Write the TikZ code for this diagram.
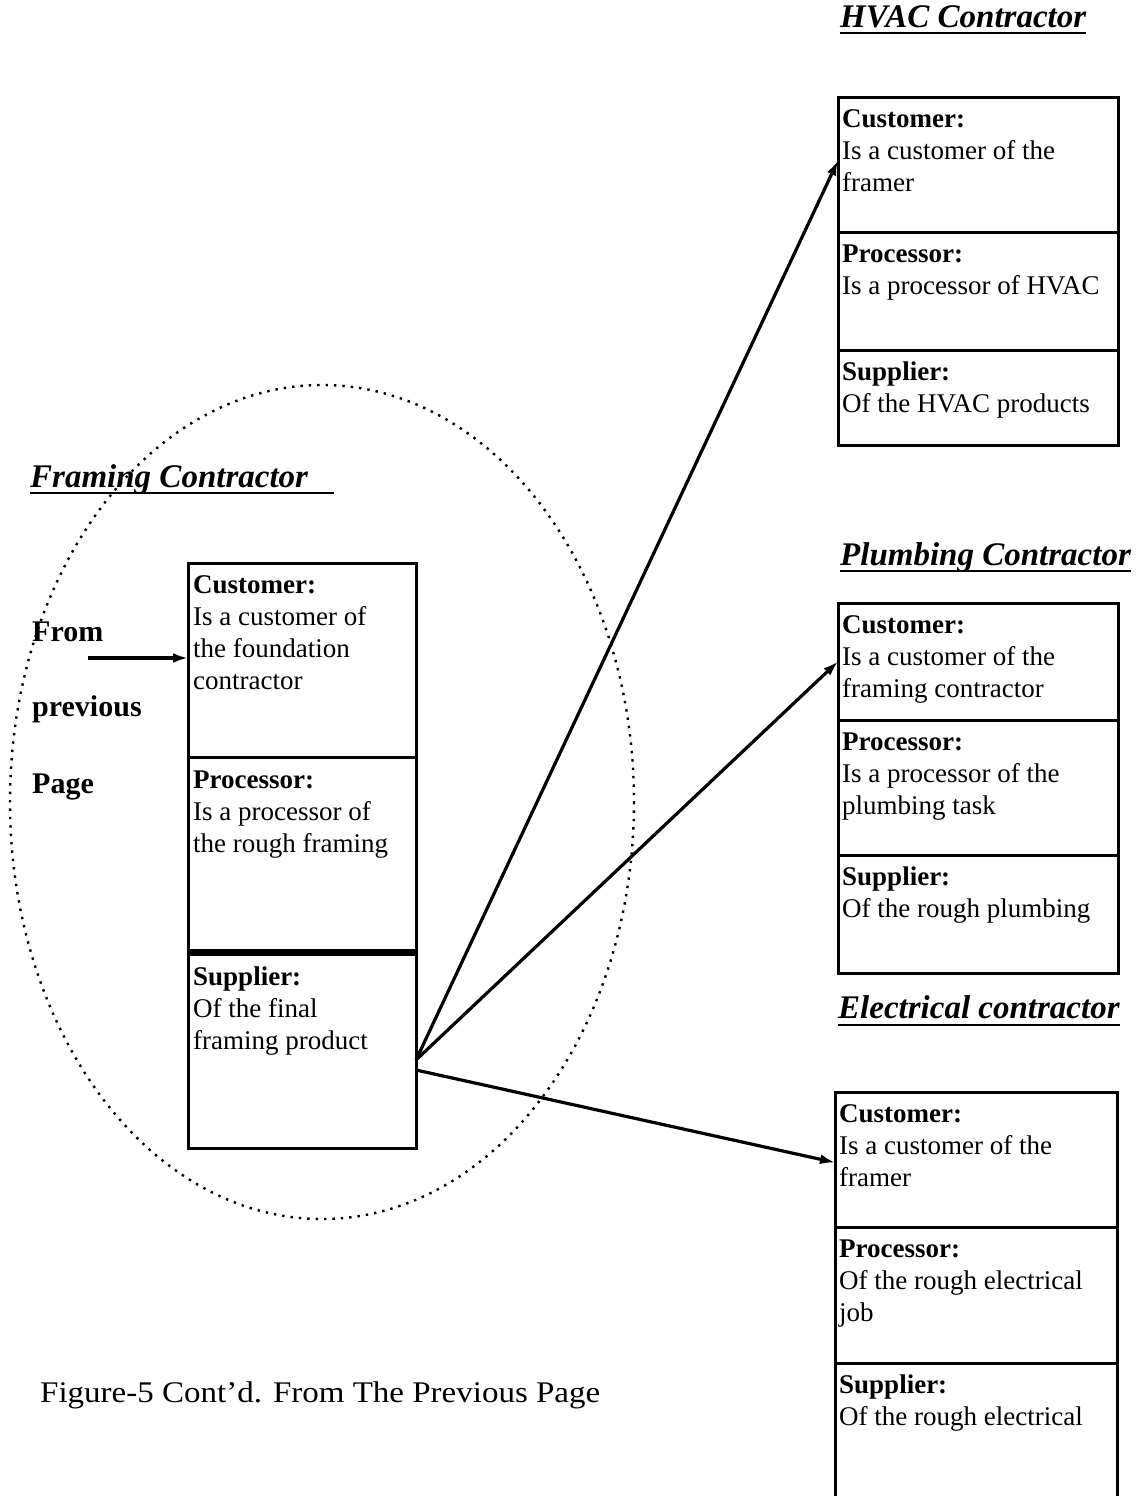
\documentclass[tikz,border=0pt]{standalone}
\usepackage{fontspec}
\usepackage{graphicx}
\setmainfont{Liberation Serif}
\usetikzlibrary{arrows.meta,calc}
\begin{document}
\begin{tikzpicture}[x=1pt,y=-1pt,
  sec/.style={draw, line width=3pt, anchor=north west, inner sep=0pt, outer sep=0pt},
  body/.style={anchor=north west, inner sep=0pt, align=left, font=\fontsize{27}{32}\selectfont},
  head/.style={anchor=base west, inner sep=0pt, font=\fontsize{33}{38}\selectfont\bfseries\itshape},
  side/.style={anchor=base west, inner sep=0pt, font=\fontsize{30}{36}\selectfont\bfseries},
  link/.style={line width=3.2pt, -{Latex[length=15pt,width=10pt]}},
  uline/.style={line width=2.8pt},
  group/.style={line width=2.4pt, dash pattern=on 2.4pt off 6pt}
]
\useasboundingbox (0,0) rectangle (1140,1496);
\clip (0,0) rectangle (1140,1496);

% ---------- Framing contractor ----------
\draw[group] (322,802) ellipse [x radius=312, y radius=417];

\node[head] (frT) at (30,487) {Framing Contractor};
\draw[uline] ($(frT.base west)+(0,6)$) -- ($(frT.base east)+(26,6)$);

\node[sec, minimum width=228pt, minimum height=194pt] (fC) at (188,563) {};
\node[sec, minimum width=228pt, minimum height=195pt] (fP) at (188,757) {};
\node[sec, minimum width=228pt, minimum height=196pt] (fS) at (188,952) {};
\draw[line width=7pt] (fS.north west) -- (fS.north east);

\node[body] at ($(fC.north west)+(5,12)$) {\textbf{Customer:}\\Is a customer of\\the foundation\\contractor};
\node[body] at ($(fP.north west)+(5,14)$) {\textbf{Processor:}\\Is a processor of\\the rough framing};
\node[body] at ($(fS.north west)+(5,15)$) {\textbf{Supplier:}\\Of the final\\framing product};

\node[side] (from) at (32,641) {From};
\node[side] (prev) at (32,716) {previous};
\node[side] (page) at (32,793) {Page};
\coordinate (fromtail) at (88,658);
\draw[link] (fromtail) -- ($(fC.west)+(0,-2)$);

% ---------- HVAC contractor ----------
\node[head] (hvT) at (840,28) {HVAC Contractor};
\draw[uline] ($(hvT.base west)+(0,5)$) -- ($(hvT.base east)+(0,5)$);
\node[sec, minimum width=280pt, minimum height=135pt] (hC) at (838,97) {};
\node[sec, minimum width=280pt, minimum height=118pt] (hP) at (838,232) {};
\node[sec, minimum width=280pt, minimum height=95pt] (hS) at (838,350) {};
\node[body] at ($(hC.north west)+(4,12)$) {\textbf{Customer:}\\Is a customer of the\\framer};
\node[body] at ($(hP.north west)+(4,13)$) {\textbf{Processor:}\\Is a processor of HVAC};
\node[body] at ($(hS.north west)+(4,12)$) {\textbf{Supplier:}\\Of the HVAC products};

% ---------- Plumbing contractor ----------
\node[head] (plT) at (840,565) {Plumbing Contractor};
\draw[uline] ($(plT.base west)+(0,6)$) -- ($(plT.base east)+(0,6)$);
\node[sec, minimum width=280pt, minimum height=117pt] (pC) at (838,603) {};
\node[sec, minimum width=280pt, minimum height=135pt] (pP) at (838,720) {};
\node[sec, minimum width=280pt, minimum height=118pt] (pS) at (838,855) {};
\node[body] at ($(pC.north west)+(4,12)$) {\textbf{Customer:}\\Is a customer of the\\framing contractor};
\node[body] at ($(pP.north west)+(4,13)$) {\textbf{Processor:}\\Is a processor of the\\plumbing task};
\node[body] at ($(pS.north west)+(4,12)$) {\textbf{Supplier:}\\Of the rough plumbing};

% ---------- Electrical contractor ----------
\node[head] (elT) at (838,1018) {Electrical contractor};
\draw[uline] ($(elT.base west)+(0,7)$) -- ($(elT.base east)+(0,7)$);
\node[sec, minimum width=282pt, minimum height=135pt] (eC) at (835,1092) {};
\node[sec, minimum width=282pt, minimum height=136pt] (eP) at (835,1227) {};
\node[sec, minimum width=282pt, minimum height=145pt] (eS) at (835,1363) {};
\node[body] at ($(eC.north west)+(4,12)$) {\textbf{Customer:}\\Is a customer of the\\framer};
\node[body] at ($(eP.north west)+(4,13)$) {\textbf{Processor:}\\Of the rough electrical\\job};
\node[body] at ($(eS.north west)+(4,12)$) {\textbf{Supplier:}\\Of the rough electrical};

% ---------- Links from the framing supplier ----------
\draw[link] ($(fS.east)+(0,10)$) -- ($(hC.west)+(0,-4)$);
\draw[link] ($(fS.east)+(0,10)$) -- (pC.west);
\draw[link] ($(fS.east)+(0,20)$) -- ($(eC.west)+(0,3)$);

% ---------- Caption ----------
\node[anchor=base west, inner sep=0pt, font=\fontsize{30}{36}\selectfont] (cap) at (40,1402)
  {\scalebox{1.1}[1]{Figure-5 Cont'd. From The Previous Page}};
\end{tikzpicture}
\end{document}
